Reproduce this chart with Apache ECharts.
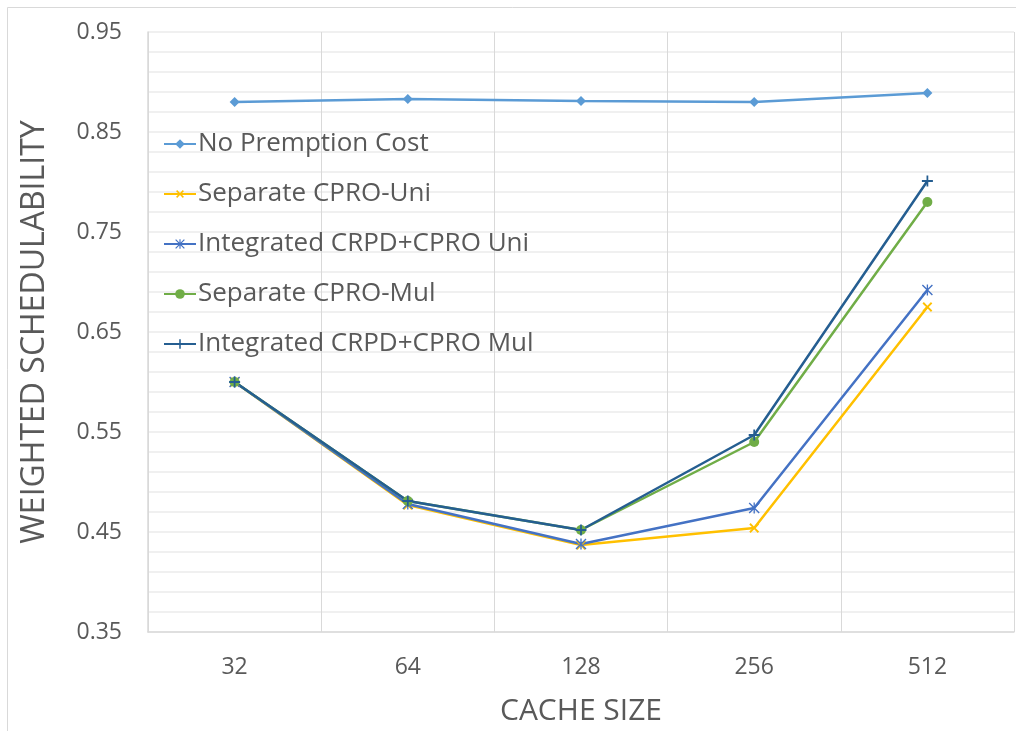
<!DOCTYPE html>
<html>
<head>
<meta charset="utf-8">
<script src="https://cdn.jsdelivr.net/npm/echarts@6/dist/echarts.min.js"></script>
<style>
  html, body { margin: 0; padding: 0; background: #fff; }
  #chart { width: 1016px; height: 731px; }
</style>
</head>
<body>
<div id="chart"></div>
<script>
// Cache sizes on the x axis
const cacheSizes = ['32', '64', '128', '256', '512'];

// Weighted schedulability per approach
const noPreemption   = [0.880, 0.883, 0.881, 0.880, 0.889];
const sepCproUni     = [0.600, 0.477, 0.437, 0.454, 0.675];
const intCrpdCproUni = [0.600, 0.478, 0.438, 0.474, 0.692];
const sepCproMul     = [0.600, 0.481, 0.452, 0.540, 0.780];
const intCrpdCproMul = [0.600, 0.481, 0.452, 0.547, 0.801];

const seriesNames = [
  'No Premption Cost',
  'Separate CPRO-Uni',
  'Integrated CRPD+CPRO Uni',
  'Separate CPRO-Mul',
  'Integrated CRPD+CPRO Mul'
];

// Marker shapes: plus, x (rotated plus) and asterisk
const PLUS = 'path://M4.2,0 H5.8 V4.2 H10 V5.8 H5.8 V10 H4.2 V5.8 H0 V4.2 H4.2 Z';
const ASTERISK = 'path://M4.4,0 H5.6 V10 H4.4 Z M0,0.9 L0.9,0 L10,9.1 L9.1,10 Z M9.1,0 L10,0.9 L0.9,10 L0,9.1 Z';

const FONT = '"Open Sans", "Noto Sans", sans-serif';
const TEXT = '#595959';

function lineSeries(name, data, color, symbol, size, rotate) {
  return {
    name: name,
    type: 'line',
    data: data,
    symbol: symbol,
    symbolSize: size,
    symbolRotate: rotate || 0,
    showSymbol: true,
    lineStyle: { color: color, width: 2.5 },
    itemStyle: { color: color },
    emphasis: { disabled: true }
  };
}

const chart = echarts.init(document.getElementById('chart'), null, { renderer: 'canvas' });

chart.setOption({
  animation: false,
  backgroundColor: '#ffffff',
  graphic: [{
    type: 'rect',
    shape: { x: 7.5, y: 7.5, width: 1030, height: 740 },
    style: { fill: 'none', stroke: '#d9d9d9', lineWidth: 1 },
    silent: true,
    z: -1
  }],
  grid: { left: 148, right: 2, top: 32, bottom: 99, containLabel: false },
  legend: {
    orient: 'vertical',
    left: 158,
    top: 126,
    itemWidth: 32,
    itemHeight: 12,
    itemGap: 24,
    textStyle: { fontFamily: FONT, fontSize: 26, color: TEXT, lineHeight: 26, padding: [0, 0, 0, -3] },
    data: seriesNames
  },
  xAxis: {
    type: 'category',
    data: cacheSizes,
    boundaryGap: true,
    name: 'CACHE SIZE',
    nameLocation: 'middle',
    nameGap: 64,
    nameTextStyle: { fontFamily: FONT, fontSize: 30, color: TEXT },
    axisLine: { show: true, lineStyle: { color: '#d9d9d9', width: 1.5 } },
    axisTick: { show: false },
    axisLabel: { fontFamily: FONT, fontSize: 23, color: TEXT, margin: 24 },
    splitLine: { show: true, lineStyle: { color: '#d9d9d9', width: 1 } }
  },
  yAxis: {
    type: 'value',
    min: 0.35,
    max: 0.95,
    interval: 0.1,
    name: 'WEIGHTED SCHEDULABILITY',
    nameLocation: 'middle',
    nameGap: 97,
    nameTextStyle: { fontFamily: FONT, fontSize: 32, color: TEXT },
    axisLine: { show: true, lineStyle: { color: '#d9d9d9', width: 1.5 } },
    axisTick: { show: false },
    axisLabel: {
      fontFamily: FONT, fontSize: 23, color: TEXT, margin: 26,
      formatter: v => v.toFixed(2)
    },
    splitLine: { show: true, lineStyle: { color: '#ebebeb', width: 1.5 } },
    minorTick: { show: false, splitNumber: 5 },
    minorSplitLine: { show: true, lineStyle: { color: '#ebebeb', width: 1.5 } }
  },
  series: [
    lineSeries(seriesNames[0], noPreemption, '#5b9bd5', 'diamond', 10),
    lineSeries(seriesNames[1], sepCproUni, '#ffc000', PLUS, 12, 45),
    lineSeries(seriesNames[2], intCrpdCproUni, '#4472c4', ASTERISK, 11),
    lineSeries(seriesNames[3], sepCproMul, '#70ad47', 'circle', 10),
    lineSeries(seriesNames[4], intCrpdCproMul, '#255e91', PLUS, 11)
  ]
});
</script>
</body>
</html>
